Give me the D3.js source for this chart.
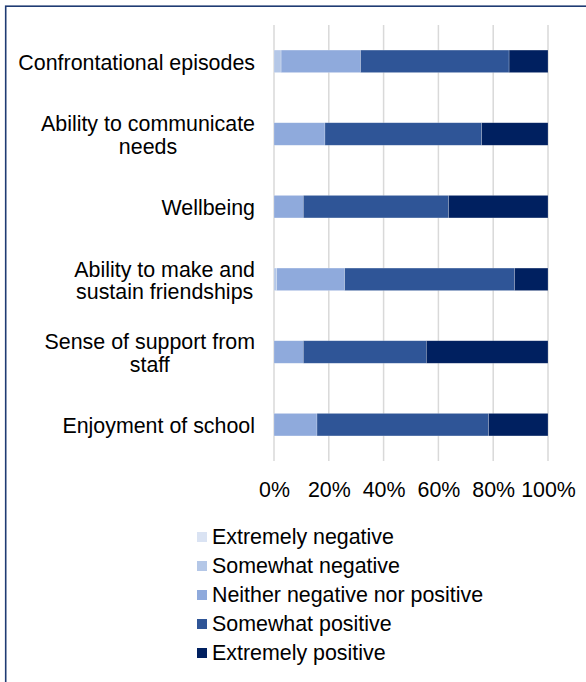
<!DOCTYPE html>
<html>
<head>
<meta charset="utf-8">
<script src="https://cdn.jsdelivr.net/npm/d3@7"></script>
<style>
  html, body { margin: 0; padding: 0; background: #ffffff; }
  svg { display: block; font-family: "Liberation Sans", Arial, sans-serif; }
</style>
</head>
<body>
<svg id="chart" width="586" height="682"></svg>
<script>
// Categories, top to bottom; multi-line labels split with "\n"
const categories = [
  "Confrontational episodes",
  "Ability to communicate\nneeds",
  "Wellbeing",
  "Ability to make and\nsustain friendships",
  "Sense of support from\nstaff",
  "Enjoyment of school"
];

const seriesNames = [
  "Extremely negative",
  "Somewhat negative",
  "Neither negative nor positive",
  "Somewhat positive",
  "Extremely positive"
];

// Share of responses (%) per category, one array per response level
const extremelyNegative = [0, 0, 0, 0, 0, 0];
const somewhatNegative  = [2.6, 0, 0, 1.0, 0, 0];
const neitherNor        = [29.0, 18.6, 10.7, 24.8, 10.7, 15.7];
const somewhatPositive  = [54.2, 57.2, 53.0, 62.0, 44.9, 62.6];
const extremelyPositive = [14.2, 24.2, 36.3, 12.2, 44.4, 21.7];

const tickValues = [0, 20, 40, 60, 80, 100];
const tickLabels = ["0%", "20%", "40%", "60%", "80%", "100%"];

const colors = ["#dae3f3", "#b4c7e7", "#8faadc", "#2f5597", "#002060"];

const seriesValues = [extremelyNegative, somewhatNegative, neitherNor, somewhatPositive, extremelyPositive];
const rows = categories.map((c, i) => {
  const r = { category: c };
  seriesNames.forEach((s, k) => { r[s] = seriesValues[k][i]; });
  return r;
});

const fontSize = 21.4;
const svg = d3.select("#chart");

// Outer frame (left and top edges visible)
svg.append("rect")
  .attr("x", 5.7).attr("y", 6.2)
  .attr("width", 600).attr("height", 700)
  .attr("fill", "none")
  .attr("stroke", "#1f3b73")
  .attr("stroke-width", 1.6);

const plot = { left: 274, right: 548, top: 25, bottom: 461 };

const x = d3.scaleLinear().domain([0, 100]).range([plot.left, plot.right]);
const y = d3.scaleBand().domain(categories).range([plot.top, plot.bottom]).paddingInner(0.69).paddingOuter(0.345);

// Vertical gridlines
svg.append("g")
  .selectAll("line")
  .data(tickValues)
  .join("line")
  .attr("x1", d => x(d)).attr("x2", d => x(d))
  .attr("y1", plot.top).attr("y2", plot.bottom)
  .attr("stroke", "#d9d9d9")
  .attr("stroke-width", 1.5);

// Stacked bars
const stack = d3.stack().keys(seriesNames)(rows);
svg.append("g")
  .selectAll("g")
  .data(stack)
  .join("g")
  .attr("fill", (d, i) => colors[i])
  .selectAll("rect")
  .data(d => d.filter(p => p[1] - p[0] > 0))
  .join("rect")
  .attr("x", d => x(d[0]))
  .attr("width", d => x(d[1]) - x(d[0]))
  .attr("y", d => y(d.data.category))
  .attr("height", y.bandwidth())
  .attr("stroke", "#ffffff")
  .attr("stroke-opacity", 0.35)
  .attr("stroke-width", 0.6);

// X axis tick labels
const xAxis = d3.axisBottom(x)
  .tickValues(tickValues)
  .tickFormat((d, i) => tickLabels[i])
  .tickSize(0)
  .tickPadding(0);
const gx = svg.append("g")
  .attr("transform", `translate(0, ${plot.bottom})`)
  .call(xAxis);
gx.select(".domain").remove();
gx.selectAll("text")
  .attr("y", 36)
  .attr("dy", 0)
  .attr("fill", "#000000")
  .style("font-size", fontSize + "px")
  .style("font-family", '"Liberation Sans", Arial, sans-serif');

// Category labels: block right aligned at the axis, lines centred within it
const lineH = 22.5;
const labelRight = 255;
const labels = svg.append("g")
  .selectAll("text")
  .data(categories)
  .join("text")
  .attr("text-anchor", "middle")
  .attr("font-size", fontSize)
  .attr("fill", "#000000");
labels.each(function(d) {
  const lines = d.split("\n");
  const first = 8.5 - (lines.length - 1) * lineH / 2;
  const t = d3.select(this);
  const spans = t.selectAll("tspan")
    .data(lines)
    .join("tspan")
    .attr("y", (l, i) => first + i * lineH)
    .text(l => l);
  let w = 0;
  spans.each(function() { w = Math.max(w, this.getComputedTextLength()); });
  spans.attr("x", 0);
  t.attr("transform", `translate(${labelRight - w / 2}, ${y(d) + y.bandwidth() / 2})`);
});

// Legend
const legend = svg.append("g")
  .selectAll("g")
  .data(seriesNames)
  .join("g")
  .attr("transform", (d, i) => `translate(197, ${543.5 + i * 29})`);
legend.append("rect")
  .attr("x", 0).attr("y", -11.5)
  .attr("width", 10).attr("height", 10)
  .attr("fill", (d, i) => colors[i]);
legend.append("text")
  .attr("x", 15).attr("y", 0)
  .attr("font-size", fontSize)
  .attr("fill", "#000000")
  .text(d => d);
</script>
</body>
</html>
